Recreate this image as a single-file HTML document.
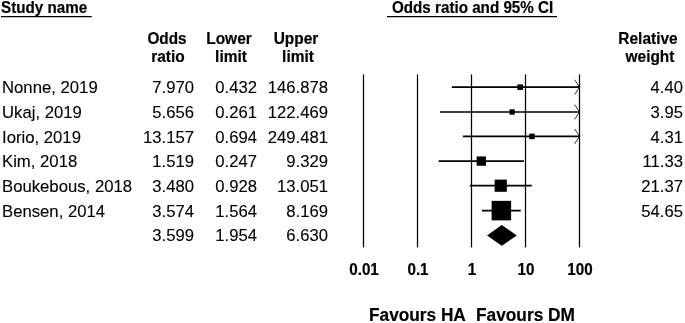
<!DOCTYPE html>
<html><head><meta charset="utf-8">
<style>
html,body{margin:0;padding:0;background:#fff;}
body{width:685px;height:323px;position:relative;overflow:hidden;font-family:"Liberation Sans",Arial,sans-serif;color:#000;}
.t{position:absolute;white-space:nowrap;line-height:18px;-webkit-text-stroke:0.12px #000;}
.b{font-weight:bold;-webkit-text-stroke:0.2px #000;}
svg{position:absolute;left:0;top:0;}
</style></head><body>
<div class="t b" style="left:0.80px;top:-1.01px;width:200px;text-align:left;font-size:15.81px;transform:scaleX(0.9615);transform-origin:left center;">Study name</div>
<div class="t b" style="left:391.50px;top:-1.01px;width:200px;text-align:left;font-size:15.81px;transform:scaleX(0.9615);transform-origin:left center;">Odds ratio and 95% CI</div>
<div class="t b" style="left:131.90px;top:30.00px;width:70px;text-align:center;font-size:15.91px;transform:scaleX(0.9615);transform-origin:center center;">Odds</div>
<div class="t b" style="left:133.10px;top:47.01px;width:70px;text-align:center;font-size:16.07px;transform:scaleX(0.9615);transform-origin:center center;">ratio</div>
<div class="t b" style="left:193.80px;top:29.01px;width:70px;text-align:center;font-size:16.07px;transform:scaleX(0.9615);transform-origin:center center;">Lower</div>
<div class="t b" style="left:196.30px;top:47.01px;width:70px;text-align:center;font-size:16.07px;transform:scaleX(0.9615);transform-origin:center center;">limit</div>
<div class="t b" style="left:261.20px;top:29.01px;width:70px;text-align:center;font-size:16.07px;transform:scaleX(0.9615);transform-origin:center center;">Upper</div>
<div class="t b" style="left:263.20px;top:47.01px;width:70px;text-align:center;font-size:16.07px;transform:scaleX(0.9615);transform-origin:center center;">limit</div>
<div class="t b" style="left:612.50px;top:29.01px;width:70px;text-align:center;font-size:16.07px;transform:scaleX(0.9615);transform-origin:center center;">Relative</div>
<div class="t b" style="left:614.70px;top:47.01px;width:70px;text-align:center;font-size:16.07px;transform:scaleX(0.9615);transform-origin:center center;">weight</div>
<div class="t" style="left:2.00px;top:78.22px;width:200px;text-align:left;font-size:17.39px;transform:scaleX(0.9615);transform-origin:left center;">Nonne, 2019</div>
<div class="t" style="left:2.00px;top:102.91px;width:200px;text-align:left;font-size:17.39px;transform:scaleX(0.9615);transform-origin:left center;">Ukaj, 2019</div>
<div class="t" style="left:2.00px;top:127.61px;width:200px;text-align:left;font-size:17.39px;transform:scaleX(0.9615);transform-origin:left center;">Iorio, 2019</div>
<div class="t" style="left:2.00px;top:152.22px;width:200px;text-align:left;font-size:17.39px;transform:scaleX(0.9615);transform-origin:left center;">Kim, 2018</div>
<div class="t" style="left:2.00px;top:176.91px;width:200px;text-align:left;font-size:17.39px;transform:scaleX(0.9615);transform-origin:left center;">Boukebous, 2018</div>
<div class="t" style="left:2.00px;top:201.61px;width:200px;text-align:left;font-size:17.39px;transform:scaleX(0.9615);transform-origin:left center;">Bensen, 2014</div>
<div class="t" style="left:-6.40px;top:78.21px;width:200px;text-align:right;font-size:17.33px;transform:scaleX(0.9615);transform-origin:right center;">7.970</div>
<div class="t" style="left:-6.40px;top:102.90px;width:200px;text-align:right;font-size:17.33px;transform:scaleX(0.9615);transform-origin:right center;">5.656</div>
<div class="t" style="left:-6.40px;top:127.60px;width:200px;text-align:right;font-size:17.33px;transform:scaleX(0.9615);transform-origin:right center;">13.157</div>
<div class="t" style="left:-6.40px;top:152.21px;width:200px;text-align:right;font-size:17.33px;transform:scaleX(0.9615);transform-origin:right center;">1.519</div>
<div class="t" style="left:-6.40px;top:176.90px;width:200px;text-align:right;font-size:17.33px;transform:scaleX(0.9615);transform-origin:right center;">3.480</div>
<div class="t" style="left:-6.40px;top:201.60px;width:200px;text-align:right;font-size:17.33px;transform:scaleX(0.9615);transform-origin:right center;">3.574</div>
<div class="t" style="left:-6.40px;top:226.30px;width:200px;text-align:right;font-size:17.33px;transform:scaleX(0.9615);transform-origin:right center;">3.599</div>
<div class="t" style="left:57.40px;top:78.21px;width:200px;text-align:right;font-size:17.33px;transform:scaleX(0.9615);transform-origin:right center;">0.432</div>
<div class="t" style="left:57.40px;top:102.90px;width:200px;text-align:right;font-size:17.33px;transform:scaleX(0.9615);transform-origin:right center;">0.261</div>
<div class="t" style="left:57.40px;top:127.60px;width:200px;text-align:right;font-size:17.33px;transform:scaleX(0.9615);transform-origin:right center;">0.694</div>
<div class="t" style="left:57.40px;top:152.21px;width:200px;text-align:right;font-size:17.33px;transform:scaleX(0.9615);transform-origin:right center;">0.247</div>
<div class="t" style="left:57.40px;top:176.90px;width:200px;text-align:right;font-size:17.33px;transform:scaleX(0.9615);transform-origin:right center;">0.928</div>
<div class="t" style="left:57.40px;top:201.60px;width:200px;text-align:right;font-size:17.33px;transform:scaleX(0.9615);transform-origin:right center;">1.564</div>
<div class="t" style="left:57.40px;top:226.30px;width:200px;text-align:right;font-size:17.33px;transform:scaleX(0.9615);transform-origin:right center;">1.954</div>
<div class="t" style="left:127.60px;top:78.21px;width:200px;text-align:right;font-size:17.33px;transform:scaleX(0.9615);transform-origin:right center;">146.878</div>
<div class="t" style="left:127.60px;top:102.90px;width:200px;text-align:right;font-size:17.33px;transform:scaleX(0.9615);transform-origin:right center;">122.469</div>
<div class="t" style="left:127.60px;top:127.60px;width:200px;text-align:right;font-size:17.33px;transform:scaleX(0.9615);transform-origin:right center;">249.481</div>
<div class="t" style="left:127.60px;top:152.21px;width:200px;text-align:right;font-size:17.33px;transform:scaleX(0.9615);transform-origin:right center;">9.329</div>
<div class="t" style="left:127.60px;top:176.90px;width:200px;text-align:right;font-size:17.33px;transform:scaleX(0.9615);transform-origin:right center;">13.051</div>
<div class="t" style="left:127.60px;top:201.60px;width:200px;text-align:right;font-size:17.33px;transform:scaleX(0.9615);transform-origin:right center;">8.169</div>
<div class="t" style="left:127.60px;top:226.30px;width:200px;text-align:right;font-size:17.33px;transform:scaleX(0.9615);transform-origin:right center;">6.630</div>
<div class="t" style="left:482.90px;top:78.21px;width:200px;text-align:right;font-size:17.33px;transform:scaleX(0.9615);transform-origin:right center;">4.40</div>
<div class="t" style="left:482.90px;top:102.90px;width:200px;text-align:right;font-size:17.33px;transform:scaleX(0.9615);transform-origin:right center;">3.95</div>
<div class="t" style="left:482.90px;top:127.60px;width:200px;text-align:right;font-size:17.33px;transform:scaleX(0.9615);transform-origin:right center;">4.31</div>
<div class="t" style="left:482.90px;top:152.21px;width:200px;text-align:right;font-size:17.33px;transform:scaleX(0.9615);transform-origin:right center;">11.33</div>
<div class="t" style="left:482.90px;top:176.90px;width:200px;text-align:right;font-size:17.33px;transform:scaleX(0.9615);transform-origin:right center;">21.37</div>
<div class="t" style="left:482.90px;top:201.60px;width:200px;text-align:right;font-size:17.33px;transform:scaleX(0.9615);transform-origin:right center;">54.65</div>
<div class="t b" style="left:328.50px;top:261.01px;width:70px;text-align:center;font-size:15.81px;transform:scaleX(0.9615);transform-origin:center center;">0.01</div>
<div class="t b" style="left:382.50px;top:261.01px;width:70px;text-align:center;font-size:15.81px;transform:scaleX(0.9615);transform-origin:center center;">0.1</div>
<div class="t b" style="left:436.50px;top:261.01px;width:70px;text-align:center;font-size:15.81px;transform:scaleX(0.9615);transform-origin:center center;">1</div>
<div class="t b" style="left:490.50px;top:261.01px;width:70px;text-align:center;font-size:15.81px;transform:scaleX(0.9615);transform-origin:center center;">10</div>
<div class="t b" style="left:544.50px;top:261.01px;width:70px;text-align:center;font-size:15.81px;transform:scaleX(0.9615);transform-origin:center center;">100</div>
<div class="t b" style="left:368.90px;top:305.91px;width:200px;text-align:left;font-size:17.94px;transform:scaleX(0.9615);transform-origin:left center;">Favours HA</div>
<div class="t b" style="left:475.90px;top:305.91px;width:200px;text-align:left;font-size:17.99px;transform:scaleX(0.9615);transform-origin:left center;">Favours DM</div>
<svg width="685" height="323" viewBox="0 0 685 323">
<g stroke="#000" stroke-width="1.1" fill="none">
<line x1="1" y1="16.6" x2="91.8" y2="16.6"/>
<line x1="387" y1="16.6" x2="557" y2="16.6"/>
</g>
<g stroke="#000" stroke-width="1.25" fill="none">
<line x1="363.50" y1="74.5" x2="363.50" y2="247.4"/>
<line x1="417.50" y1="74.5" x2="417.50" y2="247.4"/>
<line x1="471.50" y1="74.5" x2="471.50" y2="247.4"/>
<line x1="525.50" y1="74.5" x2="525.50" y2="247.4"/>
<line x1="579.50" y1="74.5" x2="579.50" y2="247.4"/>
</g>
<line x1="451.82" y1="87.2" x2="579.50" y2="87.2" stroke="#000" stroke-width="1.7"/>
<polyline points="574.70,79.80 579.50,87.2 574.70,94.60" fill="none" stroke="#000" stroke-width="0.8"/>
<rect x="517.38" y="84.40" width="5.6" height="5.6" fill="#000"/>
<line x1="440.00" y1="112.0" x2="579.50" y2="112.0" stroke="#000" stroke-width="1.7"/>
<polyline points="574.70,104.60 579.50,112.0 574.70,119.40" fill="none" stroke="#000" stroke-width="0.8"/>
<rect x="509.49" y="109.35" width="5.3" height="5.3" fill="#000"/>
<line x1="462.93" y1="136.4" x2="579.50" y2="136.4" stroke="#000" stroke-width="1.7"/>
<polyline points="574.70,129.00 579.50,136.4 574.70,143.80" fill="none" stroke="#000" stroke-width="0.8"/>
<rect x="529.18" y="133.65" width="5.5" height="5.5" fill="#000"/>
<line x1="438.71" y1="161.1" x2="523.87" y2="161.1" stroke="#000" stroke-width="1.7"/>
<rect x="476.65" y="156.45" width="9.3" height="9.3" fill="#000"/>
<line x1="469.75" y1="185.7" x2="531.74" y2="185.7" stroke="#000" stroke-width="1.7"/>
<rect x="494.65" y="179.60" width="12.2" height="12.2" fill="#000"/>
<line x1="481.99" y1="210.6" x2="520.76" y2="210.6" stroke="#000" stroke-width="1.7"/>
<rect x="491.62" y="200.85" width="19.5" height="19.5" fill="#000"/>
<polygon points="487,235.45 501.8,225.0 516.8,235.45 501.8,245.8" fill="#000"/>
</svg>
</body></html>
